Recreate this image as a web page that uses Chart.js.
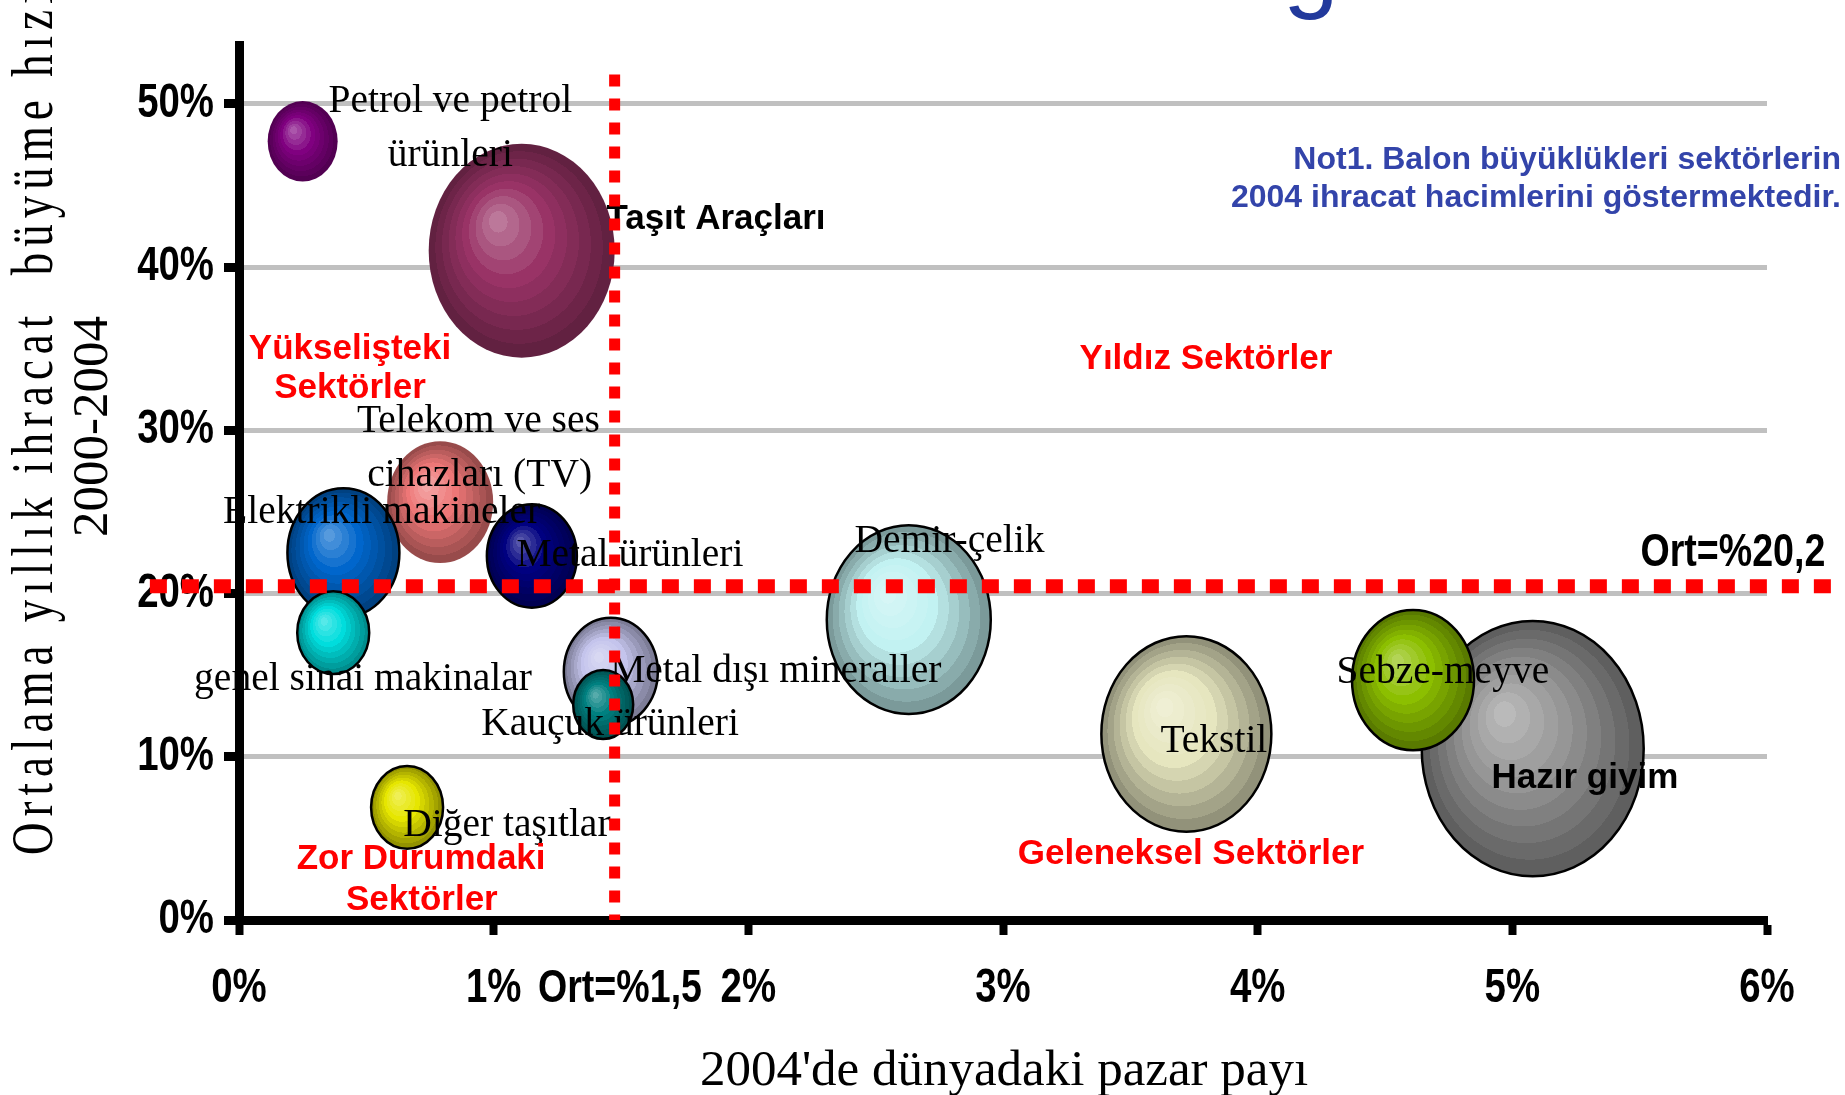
<!DOCTYPE html>
<html lang="tr">
<head>
<meta charset="utf-8">
<title>Sektörler: dünya pazar payı ve ihracat büyümesi</title>
<script src="https://cdn.jsdelivr.net/npm/chart.js@4.4.1/dist/chart.umd.min.js"></script>
<style>
  html, body { margin: 0; padding: 0; background: #fff; }
  #chart { display: block; width: 1845px; height: 1095px; }
</style>
</head>
<body>
<canvas id="chart" width="1845" height="1095"></canvas>
<script>
// ── data ─────────────────────────────────────────────────────────
const sectors = [
  'Petrol ve petrol ürünleri', 'Taşıt Araçları', 'Telekom ve ses cihazları (TV)',
  'Elektrikli makineler', 'genel sinai makinalar', 'Metal ürünleri',
  'Metal dışı mineraller', 'Kauçuk ürünleri', 'Diğer taşıtlar',
  'Demir-çelik', 'Tekstil', 'Hazır giyim', 'Sebze-meyve'
];
const marketShare  = [0.25, 1.11, 0.79, 0.41, 0.37, 1.15, 1.46, 1.43, 0.66, 2.63, 3.72, 5.08, 4.61]; // 2004, %
const exportGrowth = [47.7, 41.0, 25.6, 22.5, 17.6, 22.3, 15.2, 13.2, 6.9, 18.4, 11.4, 10.5, 14.7]; // 2000-2004, %
const exportVolume = [35, 93, 53, 56, 36, 45, 47, 30, 36, 82, 85, 111, 61];                       // bubble size
const bubbleColors = ['#800080', '#993366', '#ee7777', '#0066cc', '#00dddd', '#000080', '#c4c4ec',
                      '#008080', '#e6e600', '#c2f2f2', '#e6e6bf', '#969696', '#8cbf00'];
const bubbleOutlined = [false, false, false, true, true, true, true, true, true, true, true, true, true];

const xTickValues = [0, 1, 2, 3, 4, 5, 6];
const yTickValues = [0, 10, 20, 30, 40, 50];
const avgShareLine  = 1.475;  // "Ort=%1,5"
const avgGrowthLine = 20.45;  // "Ort=%20,2"

// captions anchored in data units: [text, x %, y %]
const captions = [
  ['Petrol ve petrol', 0.83, 49.5], ['ürünleri', 0.83, 46.2],
  ['Telekom ve ses', 0.94, 29.9], ['cihazları (TV)', 0.945, 26.6],
  ['Elektrikli makineler', 0.56, 24.3], ['Metal ürünleri', 1.535, 21.7],
  ['Demir-çelik', 2.79, 22.55], ['genel sinai makinalar', 0.487, 14.1],
  ['Metal dışı mineraller', 2.108, 14.6], ['Kauçuk ürünleri', 1.457, 11.35],
  ['Diğer taşıtlar', 1.052, 5.17], ['Tekstil', 3.828, 10.3], ['Sebze-meyve', 4.727, 14.5]
];
const boldCaptions = [['Taşıt Araçları', 1.873, 42.35], ['Hazır giyim', 5.285, 8.1]];
const quadrantNames = [
  ['Yükselişteki', 0.436, 34.35], ['Sektörler', 0.436, 31.97],
  ['Yıldız Sektörler', 3.797, 33.77],
  ['Zor Durumdaki', 0.715, 3.15], ['Sektörler', 0.718, 0.61],
  ['Geleneksel Sektörler', 3.738, 3.43]
];
const avgNames = [['Ort=%1,5', 1.496, -5.02], ['Ort=%20,2', 5.866, 21.68]];

// ── fonts ────────────────────────────────────────────────────────
const SERIF = '"Liberation Serif", "Times New Roman", serif';
const SANS  = '"Liberation Sans", Arial, sans-serif';
const NARROW = 0.8; // no Arial Narrow here, so squeeze the bold sans instead

// ── helpers ──────────────────────────────────────────────────────
function rgb(hex) {
  return [1, 3, 5].map(i => parseInt(hex.substr(i, 2), 16));
}
function mixRgb(a, b, t) {
  return a.map((v, i) => Math.round(v + (b[i] - v) * t));
}

function ringColor(base, t) {
  const c = rgb(base);
  const light = mixRgb(c, [255, 255, 255], 0.38);
  const dark = mixRgb(c, [0, 0, 0], 0.4);
  const out = t < 0.45 ? mixRgb(light, c, t / 0.45) : mixRgb(c, dark, (t - 0.45) / 0.55);
  return 'rgb(' + out.join(',') + ')';
}

// shaded, slightly tall ball like the original slide
function drawBall(ctx, x, y, r, base, outlined) {
  const k = 1.15;
  ctx.save();
  ctx.translate(x, y);
  ctx.scale(1, k);
  const g = ctx.createRadialGradient(-0.28 * r, -0.3 * r, 0, 0, 0, r);
  const bands = 10;
  for (let i = 0; i < bands; i++) {
    const c = ringColor(base, (i + 0.5) / bands);
    g.addColorStop(i / bands, c);
    g.addColorStop((i + 1) / bands, c);
  }
  ctx.fillStyle = g;
  ctx.beginPath();
  ctx.arc(0, 0, r, 0, Math.PI * 2);
  ctx.fill();
  ctx.restore();
  if (outlined) {
    ctx.save();
    ctx.beginPath();
    ctx.ellipse(x, y, r, r * k, 0, 0, Math.PI * 2);
    ctx.lineWidth = 2.5;
    ctx.strokeStyle = '#000';
    ctx.stroke();
    ctx.restore();
  }
}

function text(ctx, str, x, y, font, color, align, squeeze) {
  ctx.save();
  ctx.font = font;
  ctx.fillStyle = color;
  ctx.textAlign = align || 'center';
  ctx.textBaseline = 'alphabetic';
  ctx.translate(x, y);
  if (squeeze) ctx.scale(squeeze, 1);
  ctx.fillText(str, 0, 0);
  ctx.restore();
}

function spacedText(ctx, str, x, y, gap) {
  for (const ch of str) {
    ctx.fillText(ch, x, y);
    x += ctx.measureText(ch).width + gap;
  }
}

function dashed(ctx, x1, y1, x2, y2, width, dash) {
  ctx.save();
  ctx.strokeStyle = '#ff0000';
  ctx.lineWidth = width;
  ctx.setLineDash(dash);
  ctx.lineCap = 'butt';
  ctx.beginPath();
  ctx.moveTo(x1, y1);
  ctx.lineTo(x2, y2);
  ctx.stroke();
  ctx.restore();
}

// linear axis whose tick labels are drawn condensed (Arial Narrow look)
class NarrowLinearScale extends Chart.LinearScale {
  drawLabels(chartArea) {
    const ctx = this.ctx;
    const items = this.getLabelItems(chartArea);
    if (!items.length || !items[0].options || !items[0].options.translation) {
      return super.drawLabels(chartArea);
    }
    for (const item of items) {
      const o = item.options;
      ctx.save();
      ctx.translate(o.translation[0], o.translation[1]);
      ctx.scale(NARROW, 1);
      ctx.font = item.font.string;
      ctx.fillStyle = o.color;
      ctx.textAlign = o.textAlign;
      ctx.textBaseline = o.textBaseline;
      ctx.fillText(item.label, 0, item.textOffset);
      ctx.restore();
    }
  }
}
NarrowLinearScale.id = 'narrowLinear';
NarrowLinearScale.defaults = Chart.LinearScale.defaults;
Chart.register(NarrowLinearScale);

// ── plugins ──────────────────────────────────────────────────────
const bubbleShading = {
  id: 'bubbleShading',
  beforeDatasetDraw(chart, args) {
    args.meta.data.forEach((pt, i) => {
      drawBall(chart.ctx, pt.x, pt.y, pt.options.radius, bubbleColors[i], bubbleOutlined[i]);
    });
    return false;
  }
};

const annotations = {
  id: 'annotations',
  afterDatasetsDraw(chart) {
    const ctx = chart.ctx, xs = chart.scales.x, ys = chart.scales.y;
    const px = v => xs.getPixelForValue(v), py = v => ys.getPixelForValue(v);
    captions.forEach(([s, x, y]) => text(ctx, s, px(x), py(y), '39.5px ' + SERIF, '#000'));
    boldCaptions.forEach(([s, x, y]) => text(ctx, s, px(x), py(y), 'bold 35px ' + SANS, '#000'));
    quadrantNames.forEach(([s, x, y]) => text(ctx, s, px(x), py(y), 'bold 35px ' + SANS, '#ff0000'));
  },
  afterDraw(chart) {
    const ctx = chart.ctx, xs = chart.scales.x, ys = chart.scales.y;
    const px = v => xs.getPixelForValue(v), py = v => ys.getPixelForValue(v);

    // average lines
    dashed(ctx, px(-0.35), py(avgGrowthLine), chart.width, py(avgGrowthLine), 14, [17, 15]);
    dashed(ctx, px(avgShareLine), py(51.8), px(avgShareLine), py(0), 11, [12, 12]);

    avgNames.forEach(([s, x, y]) => text(ctx, s, px(x), py(y), 'bold 47px ' + SANS, '#000', 'center', NARROW));

    // note
    text(ctx, 'Not1. Balon büyüklükleri sektörlerin', 1841, 168.5, 'bold 32px ' + SANS, '#3344aa', 'right');
    text(ctx, '2004 ihracat hacimlerini göstermektedir.', 1841, 207, 'bold 32px ' + SANS, '#3344aa', 'right');

    // tail of the slide title, cut by the top edge
    text(ctx, 'g', 1283, -1, '100px ' + SANS, '#22399c', 'left');

    // axis titles
    text(ctx, "2004'de dünyadaki pazar payı", 1004, 1085, '51px ' + SERIF, '#000');

    ctx.save();
    ctx.translate(52, 855);
    ctx.rotate(-Math.PI / 2);
    ctx.scale(1, 1.3);
    ctx.font = '45px ' + SERIF;
    ctx.fillStyle = '#000';
    ctx.textAlign = 'left';
    spacedText(ctx, 'Ortalama yıllık ihracat  büyüme hızı', 0, 0, 6.0);
    ctx.restore();

    ctx.save();
    ctx.translate(107, 426.5);
    ctx.rotate(-Math.PI / 2);
    ctx.font = '51px ' + SERIF;
    ctx.fillStyle = '#000';
    ctx.textAlign = 'center';
    ctx.fillText('2000-2004', 0, 0);
    ctx.restore();
  }
};

// ── chart ────────────────────────────────────────────────────────
const tickFont = { family: SANS, size: 48, weight: 'bold' };

new Chart(document.getElementById('chart'), {
  type: 'bubble',
  data: {
    datasets: [{
      label: 'Sektörler',
      data: sectors.map((s, i) => ({ x: marketShare[i], y: exportGrowth[i], r: exportVolume[i] })),
      backgroundColor: bubbleColors
    }]
  },
  options: {
    responsive: false,
    animation: false,
    layout: { autoPadding: false, padding: { left: 0, right: 78, top: 45, bottom: 0 } },
    plugins: { legend: { display: false }, tooltip: { enabled: false } },
    scales: {
      x: {
        type: 'narrowLinear', position: 'bottom', min: 0, max: 6,
        afterBuildTicks: s => { s.ticks = xTickValues.map(v => ({ value: v })); },
        afterFit: s => { s.height = 175; },
        grid: { drawOnChartArea: false, tickLength: 15, tickColor: '#000', tickWidth: 8 },
        border: { color: '#000', width: 9 },
        ticks: { callback: v => v + '%', font: tickFont, color: '#000', padding: 25, maxRotation: 0 }
      },
      y: {
        type: 'narrowLinear', position: 'left', min: 0, max: 53.6,
        afterBuildTicks: s => { s.ticks = yTickValues.map(v => ({ value: v })); },
        afterFit: s => { s.width = 239; },
        grid: { color: '#c0c0c0', lineWidth: 5, tickLength: 15, tickColor: '#000', tickWidth: 9 },
        border: { color: '#000', width: 9 },
        ticks: { callback: v => v + '%', font: tickFont, color: '#000', padding: 10 }
      }
    }
  },
  plugins: [bubbleShading, annotations]
});
</script>
</body>
</html>
